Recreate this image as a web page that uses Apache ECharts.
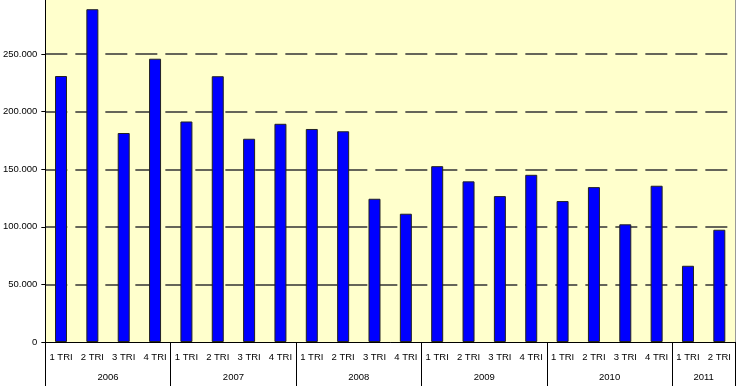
<!DOCTYPE html>
<html>
<head>
<meta charset="utf-8">
<script src="https://cdn.jsdelivr.net/npm/echarts@6/dist/echarts.min.js"></script>
<style>html,body{margin:0;padding:0;background:#fff;}#c{width:740px;height:389px;}</style>
</head>
<body>
<div id="c"></div>
<script>
const quarters = ['1 TRI','2 TRI','3 TRI','4 TRI','1 TRI','2 TRI','3 TRI','4 TRI','1 TRI','2 TRI','3 TRI','4 TRI','1 TRI','2 TRI','3 TRI','4 TRI','1 TRI','2 TRI','3 TRI','4 TRI','1 TRI','2 TRI'];
const years = ['2006','2007','2008','2009','2010','2011'];
const yearCounts = [4,4,4,4,4,2];
const values = [231000,289000,181500,246000,191500,230800,176500,189500,185000,183000,124400,111400,152700,139500,126700,145200,122400,134500,102200,135700,66200,97500];
const yTicks = [0,50000,100000,150000,200000,250000];

// build half-step year axis (boundaries and centres)
const halfSlots = quarters.length * 2 + 1;
const yearAxisData = new Array(halfSlots).fill('');
const yearBoundaries = [0];
let pos = 0;
years.forEach((y, i) => {
  yearAxisData[pos * 2 + yearCounts[i]] = y;
  pos += yearCounts[i];
  yearBoundaries.push(pos * 2);
});

const chart = echarts.init(document.getElementById('c'));
const fontFam = 'Arial, "Liberation Sans", sans-serif';
chart.setOption({
  animation: false,
  grid: {left: 45, right: 5, top: 0, bottom: 47, show: true, backgroundColor: '#FFFFCC', borderWidth: 0},
  xAxis: [
    {
      type: 'category', data: quarters, position: 'bottom',
      axisLine: {lineStyle: {color: '#000', width: 1}},
      axisTick: {length: 21, lineStyle: {color: '#000'}},
      axisLabel: {interval: 0, fontSize: 9.5, color: '#000', margin: 10, fontFamily: fontFam}
    },
    {
      type: 'category', data: yearAxisData, boundaryGap: false, position: 'bottom',
      axisLine: {show: false},
      axisTick: {length: 44, lineStyle: {color: '#000'}, interval: (i) => yearBoundaries.includes(i)},
      axisLabel: {interval: (i, v) => v !== '', fontSize: 9.5, color: '#000', margin: 30, fontFamily: fontFam}
    }
  ],
  yAxis: [
    {
      type: 'value', min: 0, max: 297000, interval: 50000,
      axisLine: {show: true, lineStyle: {color: '#000'}},
      axisTick: {show: true, length: 4, lineStyle: {color: '#000'}},
      axisLabel: {showMaxLabel: false, fontSize: 9.5, color: '#000', margin: 8, fontFamily: fontFam,
        formatter: (v) => yTicks.includes(v) ? (v === 0 ? '0' : (v/1000) + '.000') : ''},
      splitLine: {show: true, showMaxLine: false, showMinLine: false, lineStyle: {color: '#333', width: 1.5, type: [22, 8]}}
    },
    {
      type: 'value', min: 0, max: 297000, interval: 50000, position: 'right',
      axisLine: {show: true, lineStyle: {color: '#999'}},
      axisTick: {show: false}, axisLabel: {show: false}, splitLine: {show: false}
    }
  ],
  series: [{
    type: 'bar', xAxisIndex: 0, yAxisIndex: 0, data: values, barWidth: 12,
    itemStyle: {color: '#0000FF', borderColor: '#222', borderWidth: 1}
  }]
});
</script>
</body>
</html>
